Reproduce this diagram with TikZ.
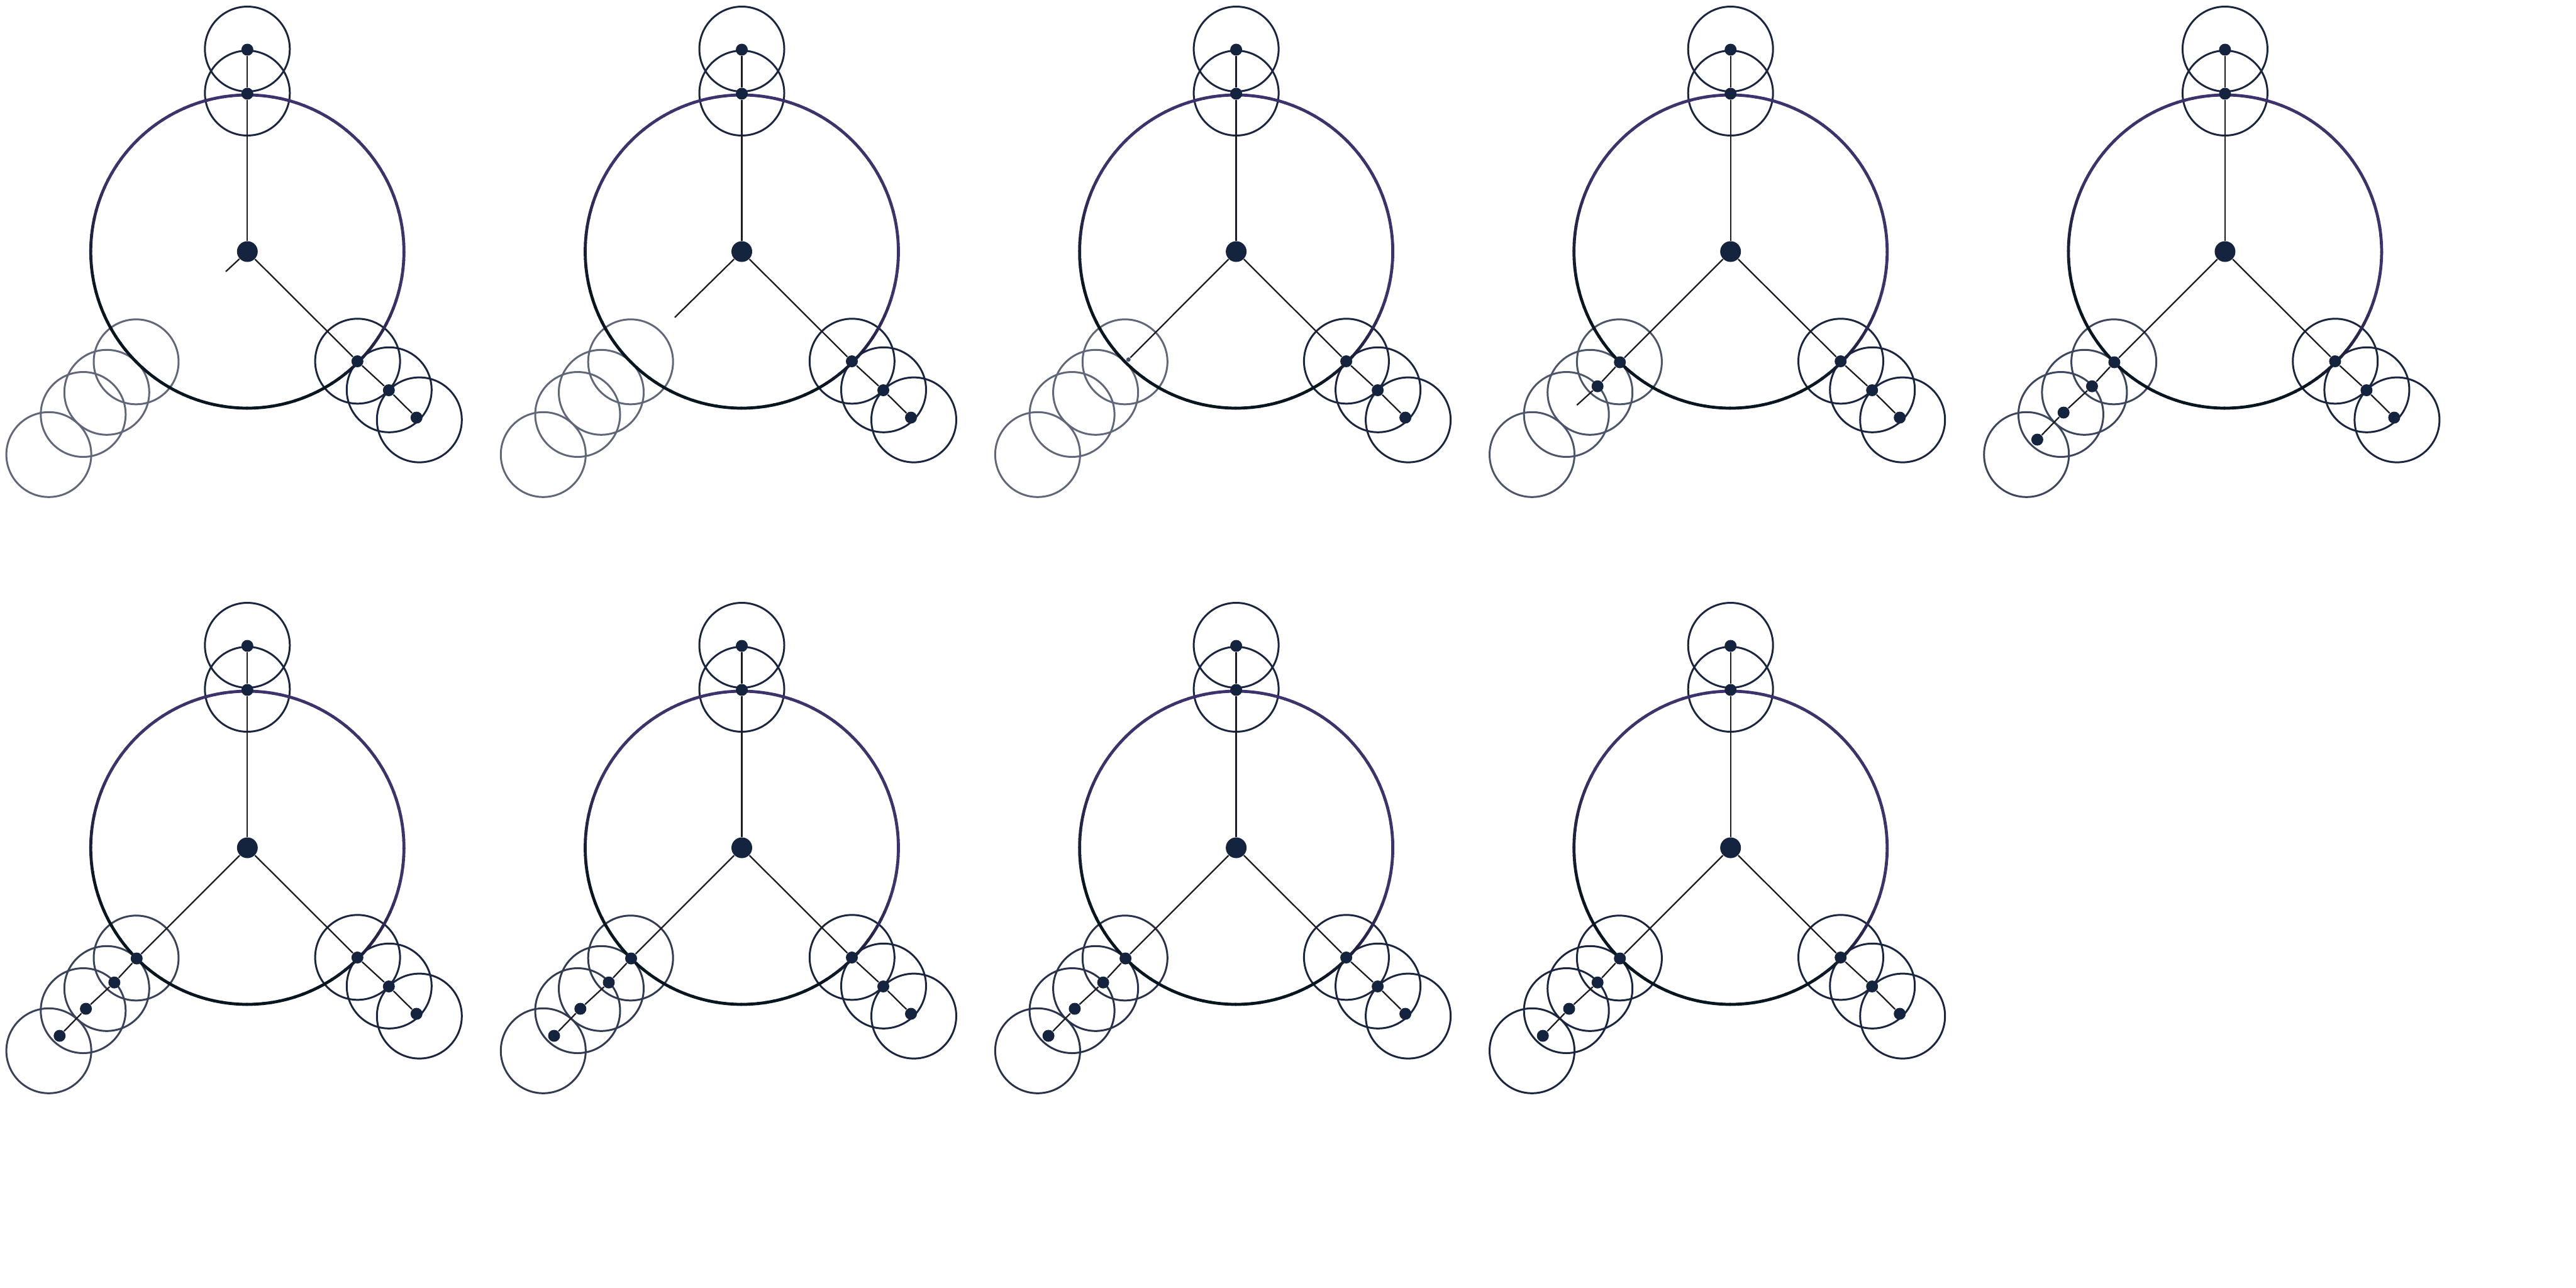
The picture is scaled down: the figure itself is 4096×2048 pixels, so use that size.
\documentclass[tikz,border=0pt]{standalone}
\definecolor{navy}{RGB}{26,38,64}
\definecolor{nodec}{RGB}{21,36,62}
\definecolor{purp}{RGB}{62,50,108}
\definecolor{darkc}{RGB}{8,22,32}
\definecolor{linec}{RGB}{28,28,34}
\tikzset{
  ring/.style={draw=navy, line width=0.85pt},
  bigring/.style={line width=1.35pt},
  branch/.style={draw=linec, line width=0.65pt},
  dotbig/.style={circle, fill=nodec, inner sep=0pt, minimum size=0.33cm},
  dotsm/.style={circle, fill=nodec, inner sep=0pt, minimum size=0.19cm},
  dottiny/.style={circle, fill=nodec, inner sep=0pt, minimum size=0.07cm, opacity=0.8},
}
\newcommand\drawpanel[5]{%
\begin{scope}[shift={(#2,#3)}]
  \foreach \x/\y in {-176.8/175.3,-223.5/223.8,-261/259,-315.7/322.8}
    \draw[ring, draw=navy!#5!white] (\x,\y) circle[radius=67.5];
  \foreach \x/\y in {0/-252,0/-322,175.3/174.3,225.5/219.8,273.5/267.6}
    \draw[ring] (\x,\y) circle[radius=67.5];
  \foreach \a in {0,3,...,357}{
    \pgfmathsetmacro\t{max(0,min(100,(cos(\a+1.5+67.5)+0.6)/0.7*100))}
    \draw[bigring, draw=purp!\t!darkc] (\a:249) arc[start angle=\a, delta angle=3.4, radius=249];
  }
  \node[dotbig] (#1c) at (0,0) {};
  \node[dotsm] (#1t1) at (0,-251) {};
  \node[dotsm] (#1t2) at (0,-321) {};
  \node[dotsm] (#1r1) at (175,174.5) {};
  \node[dotsm] (#1r2) at (225,220.5) {};
  \node[dotsm] (#1r3) at (269,264) {};
  \draw[branch] (#1c) -- (#1t1) -- (#1t2);
  \draw[branch] (#1c) -- (#1r1) -- (#1r2) -- (#1r3);
  \ifcase#4\or
    \coordinate (#1e) at (-34.3,31.8);
    \draw[branch] (#1c) -- (#1e);
  \or
    \coordinate (#1e) at (-106.6,104.7);
    \draw[branch] (#1c) -- (#1e);
  \or
    \node[dottiny] (#1e) at (-171.3,171.7) {};
    \draw[branch] (#1c) -- (#1e);
  \or
    \node[dotsm] (#1l1) at (-176,176) {};
    \node[dotsm] (#1l2) at (-211.5,214.2) {};
    \coordinate (#1e) at (-244.4,244.2);
    \draw[branch] (#1c) -- (#1l1) -- (#1l2) -- (#1e);
  \or
    \node[dotsm] (#1l1) at (-176,176) {};
    \node[dotsm] (#1l2) at (-211.5,214.2) {};
    \node[dotsm] (#1l3) at (-256.7,256) {};
    \node[dotsm] (#1l4) at (-298.5,299) {};
    \draw[branch] (#1c) -- (#1l1) -- (#1l2) -- (#1l3) -- (#1l4);
  \fi
\end{scope}}
\begin{document}
\begin{tikzpicture}[x=0.01cm, y=-0.01cm]
  \useasboundingbox (0,0) rectangle (4096,2048);
  \drawpanel{a}{393.3}{400}{1}{70}
  \drawpanel{b}{1179.5}{400}{2}{70}
  \drawpanel{c}{1965.6}{400}{3}{70}
  \drawpanel{d}{2751.7}{400}{4}{78}
  \drawpanel{e}{3537.9}{400}{5}{85}
  \drawpanel{f}{393.3}{1348}{5}{87}
  \drawpanel{g}{1179.5}{1348}{5}{90}
  \drawpanel{h}{1965.6}{1348}{5}{94}
  \drawpanel{i}{2751.7}{1348}{5}{100}
\end{tikzpicture}
\end{document}
